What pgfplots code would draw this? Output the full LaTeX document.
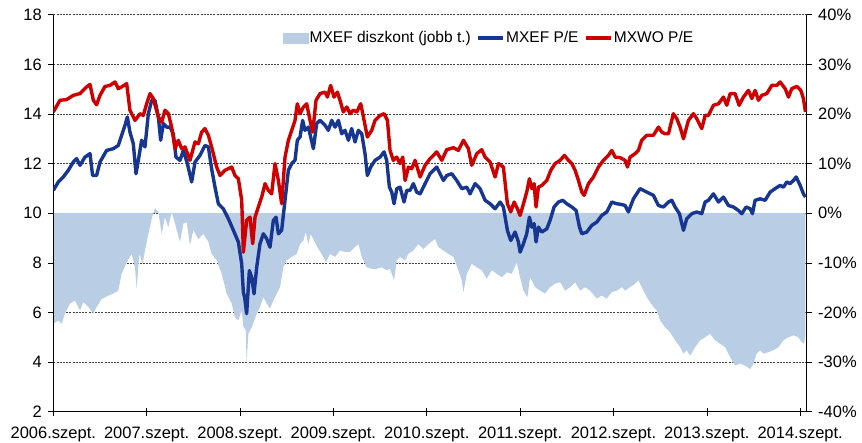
\documentclass[border=0pt]{standalone}
\usepackage{fontspec}
\setmainfont{Liberation Sans}
\usepackage{pgfplots}
\pgfplotsset{compat=1.18}
\definecolor{areablue}{RGB}{185,205,229}
\definecolor{lineblue}{RGB}{22,54,145}
\definecolor{linered}{RGB}{206,0,0}
\pgfplotsset{
  common/.style={
    scale only axis, width=753.4pt, height=397pt,
    at={(0pt,0pt)}, anchor=south west,
    xmin=0, xmax=8.07,
    tick label style={font=\fontsize{16.5}{19}\selectfont},
    /pgf/number format/assume math mode=true,
    major tick length=5pt,
    tick style={black, line width=0.6pt},
  }
}
\begin{document}
\begin{tikzpicture}
\path[use as bounding box] (-53.3pt,-30.3pt) rectangle (808.7pt,411.7pt);
% ---------- right axis: discount area + grid ----------
\begin{axis}[common,
  ymin=-40, ymax=40,
  axis y line*=right, axis x line=none,
  xtick=\empty,
  ytick={-40,-30,-20,-10,0,10,20,30,40},
  yticklabels={-40\%,-30\%,-20\%,-10\%,0\%,10\%,20\%,30\%,40\%},
  tick align=outside,
  yticklabel style={xshift=3pt},
  ymajorgrids,
  grid style={black!75, line width=0.55pt, dash pattern=on 2pt off 1.2pt},
  axis line style={black, line width=0.8pt},
]
\addplot[fill=areablue, draw=none] table {
0.000 -22.3
0.054 -21.6
0.089 -22.3
0.125 -20.2
0.179 -18.2
0.232 -17.6
0.286 -19.6
0.321 -17.9
0.375 -18.9
0.429 -20.2
0.464 -18.9
0.518 -17.3
0.589 -16.6
0.643 -16.2
0.696 -15.6
0.732 -12.2
0.786 -9.9
0.839 -8.2
0.875 -10.9
0.893 -15.2
0.921 -8.2
0.957 -10.2
0.982 -7.5
1.018 -4.2
1.054 -1.1
1.089 1.0
1.125 0.3
1.161 -4.2
1.196 -0.8
1.232 -2.8
1.268 0.3
1.304 -2.1
1.357 -5.8
1.393 -2.1
1.429 -1.8
1.464 -6.5
1.500 -3.4
1.554 -5.2
1.607 -4.2
1.661 -5.8
1.696 -8.2
1.750 -9.5
1.804 -12.2
1.857 -16.2
1.911 -18.2
1.946 -21.0
1.982 -21.6
2.018 -19.6
2.036 -22.9
2.061 -23.5
2.071 -30.2
2.089 -24.3
2.125 -23.0
2.179 -20.2
2.214 -18.9
2.250 -16.9
2.286 -18.2
2.321 -19.2
2.357 -17.6
2.393 -16.2
2.429 -14.9
2.464 -10.9
2.500 -9.5
2.554 -8.8
2.607 -8.2
2.643 -6.2
2.679 -5.5
2.704 -3.8
2.732 -6.2
2.757 -4.2
2.793 -5.5
2.839 -7.2
2.875 -8.2
2.921 -9.9
2.964 -8.2
3.018 -8.8
3.071 -7.5
3.125 -7.8
3.179 -7.8
3.232 -6.8
3.268 -6.2
3.304 -8.8
3.357 -10.9
3.411 -11.2
3.464 -11.2
3.518 -10.9
3.571 -11.5
3.607 -11.2
3.650 -13.5
3.679 -9.5
3.714 -8.8
3.768 -9.5
3.804 -8.2
3.857 -7.5
3.911 -6.2
3.964 -7.2
4.018 -6.2
4.089 -5.2
4.125 -6.8
4.179 -7.5
4.232 -8.2
4.286 -8.8
4.339 -11.5
4.375 -13.5
4.393 -15.9
4.429 -12.2
4.482 -10.2
4.536 -10.9
4.589 -11.5
4.643 -13.2
4.696 -11.5
4.750 -12.2
4.804 -12.9
4.857 -11.9
4.911 -12.2
4.964 -9.9
5.000 -12.9
5.036 -15.6
5.079 -16.9
5.107 -12.9
5.161 -14.9
5.214 -15.6
5.268 -16.2
5.321 -14.9
5.375 -14.2
5.429 -13.9
5.482 -15.6
5.536 -14.9
5.589 -13.9
5.643 -15.6
5.696 -14.9
5.750 -15.6
5.821 -17.2
5.875 -16.6
5.929 -17.2
5.982 -15.9
6.036 -15.6
6.089 -14.9
6.125 -15.6
6.178 -14.9
6.232 -14.2
6.267 -13.5
6.303 -14.9
6.357 -16.9
6.428 -18.9
6.464 -19.6
6.500 -21.6
6.553 -23.0
6.607 -24.0
6.660 -25.6
6.714 -27.0
6.750 -28.3
6.785 -27.6
6.821 -28.7
6.875 -27.0
6.928 -25.6
6.982 -25.0
7.035 -24.3
7.089 -25.6
7.142 -26.3
7.196 -27.0
7.250 -29.0
7.303 -30.7
7.357 -30.3
7.410 -30.7
7.464 -31.4
7.500 -30.3
7.535 -28.3
7.571 -27.6
7.607 -28.3
7.660 -28.0
7.714 -27.6
7.767 -27.0
7.821 -25.6
7.875 -25.0
7.928 -24.6
7.982 -25.0
8.017 -26.0
8.042 -26.3
8.057 -24.3
} \closedcycle;
\end{axis}
% ---------- left axis: P/E lines ----------
\begin{axis}[common,
  ymin=2, ymax=18,
  axis y line*=left, axis x line=none,
  xtick=\empty,
  ytick={2,4,...,18},
  tick align=outside,
  yticklabel style={xshift=-3pt},
  axis line style={black, line width=0.8pt},
  legend style={at={(rel axis cs:0.578,0.941)}, anchor=center,
    draw=none, fill=none, legend columns=3,
    font=\fontsize{15.5}{18}\selectfont,
    /tikz/every even column/.append style={column sep=4pt},
    nodes={inner xsep=1.5pt}},
  legend cell align=left,
]
\addlegendimage{legend image code/.code={\fill[areablue] (0pt,-5pt) rectangle (25pt,5pt);}}
\addlegendentry{MXEF diszkont (jobb t.)}
\addplot[lineblue, line width=3.4pt, line join=round,
  legend image code/.code={\draw[lineblue, line width=3.4pt] (0pt,0pt) -- (25pt,0pt);}] table {
0.000 10.92
0.054 11.26
0.107 11.46
0.161 11.73
0.214 12.06
0.250 12.20
0.286 11.93
0.339 12.26
0.393 12.40
0.421 11.52
0.464 11.52
0.500 12.06
0.571 12.53
0.643 12.60
0.696 12.73
0.732 13.14
0.768 13.54
0.793 13.88
0.821 13.27
0.857 12.80
0.886 11.59
0.911 12.13
0.946 12.94
0.982 12.67
1.018 14.01
1.054 14.55
1.089 14.55
1.125 13.88
1.150 12.94
1.179 13.61
1.214 13.47
1.250 13.47
1.286 13.20
1.314 12.26
1.357 12.13
1.393 12.53
1.436 12.00
1.482 11.26
1.518 12.06
1.571 12.33
1.625 12.73
1.661 12.67
1.696 11.79
1.732 11.05
1.768 10.38
1.821 10.18
1.875 9.78
1.929 9.31
1.982 8.84
2.018 7.96
2.036 6.80
2.050 6.60
2.071 5.95
2.100 7.69
2.125 7.42
2.150 6.75
2.179 7.83
2.214 8.77
2.250 9.17
2.286 8.97
2.321 8.63
2.357 9.71
2.386 9.84
2.411 9.17
2.446 9.31
2.482 10.52
2.518 11.73
2.554 12.00
2.589 12.13
2.614 12.94
2.643 13.07
2.671 13.74
2.696 13.34
2.732 13.47
2.757 13.07
2.786 12.60
2.821 13.61
2.857 13.74
2.911 13.54
2.946 13.34
2.982 13.74
3.018 13.47
3.054 13.74
3.089 13.20
3.125 13.34
3.161 12.94
3.196 13.41
3.232 12.87
3.268 13.34
3.304 13.20
3.339 12.40
3.364 11.52
3.400 11.86
3.446 12.13
3.500 12.26
3.543 12.47
3.571 12.13
3.600 11.05
3.625 10.85
3.650 10.38
3.679 10.99
3.714 11.05
3.757 10.45
3.786 10.92
3.821 10.92
3.857 11.19
3.893 10.85
3.929 10.78
3.982 11.19
4.036 11.59
4.107 11.86
4.143 11.59
4.179 11.32
4.214 11.52
4.268 11.59
4.321 11.32
4.375 10.99
4.429 11.05
4.464 10.78
4.518 11.19
4.571 10.99
4.625 10.52
4.679 10.38
4.732 10.18
4.786 10.45
4.821 10.25
4.864 9.31
4.900 8.90
4.946 9.24
4.982 8.84
5.000 8.43
5.036 8.77
5.071 9.17
5.100 9.84
5.125 9.44
5.150 9.58
5.171 8.84
5.196 9.44
5.232 9.24
5.286 9.37
5.321 9.71
5.364 10.25
5.411 10.45
5.457 10.52
5.500 10.38
5.554 10.25
5.600 10.11
5.636 9.44
5.661 9.17
5.714 9.24
5.768 9.51
5.821 9.64
5.875 9.91
5.929 10.05
5.982 10.45
6.036 10.38
6.089 10.35
6.125 10.31
6.160 10.05
6.214 10.58
6.285 10.99
6.357 10.85
6.428 10.72
6.482 10.31
6.535 10.25
6.589 10.45
6.625 10.52
6.660 10.25
6.707 9.98
6.732 9.58
6.750 9.31
6.785 9.78
6.839 9.98
6.892 10.05
6.946 9.98
6.982 10.45
7.017 10.52
7.071 10.78
7.125 10.45
7.178 10.65
7.232 10.31
7.285 10.25
7.339 10.11
7.375 9.98
7.421 10.25
7.464 10.18
7.489 9.98
7.517 10.52
7.571 10.58
7.625 10.52
7.678 10.85
7.732 10.99
7.785 11.12
7.821 11.05
7.857 11.26
7.892 11.19
7.928 11.32
7.957 11.46
8.000 11.12
8.035 10.78
8.057 10.65
};
\addlegendentry{MXEF P/E}
\addplot[linered, line width=3.4pt, line join=round,
  legend image code/.code={\draw[linered, line width=3.4pt] (0pt,0pt) -- (25pt,0pt);}] table {
0.000 14.08
0.071 14.55
0.143 14.58
0.214 14.75
0.286 14.82
0.357 15.09
0.393 15.19
0.429 14.55
0.464 14.37
0.500 14.75
0.554 15.11
0.607 15.15
0.661 15.29
0.696 15.02
0.732 15.09
0.786 15.22
0.821 14.15
0.875 13.74
0.929 14.01
0.964 13.94
1.000 14.41
1.036 14.82
1.071 14.62
1.125 13.88
1.161 13.67
1.196 14.15
1.232 14.01
1.268 13.47
1.304 12.60
1.339 12.94
1.375 12.60
1.411 12.67
1.464 12.13
1.518 12.87
1.554 12.80
1.589 13.27
1.625 13.41
1.661 13.14
1.696 12.67
1.750 11.86
1.786 11.52
1.839 11.73
1.911 11.86
1.946 11.52
1.982 11.39
2.018 10.52
2.036 8.43
2.071 9.71
2.107 9.84
2.136 8.77
2.161 9.84
2.196 10.25
2.232 10.65
2.268 11.19
2.304 10.92
2.339 10.78
2.375 12.00
2.411 11.32
2.446 10.38
2.482 12.26
2.518 12.94
2.554 13.34
2.589 13.74
2.614 14.41
2.643 14.01
2.679 14.28
2.714 14.41
2.750 13.74
2.779 13.27
2.814 14.55
2.857 14.82
2.911 14.88
2.936 14.68
2.971 15.15
3.007 14.68
3.043 14.88
3.071 14.55
3.107 14.08
3.143 14.28
3.179 14.01
3.214 14.15
3.250 14.08
3.293 14.41
3.329 13.74
3.364 13.07
3.411 13.34
3.446 13.74
3.500 13.94
3.543 14.01
3.579 13.74
3.607 12.53
3.643 12.13
3.679 12.26
3.714 12.00
3.743 12.26
3.768 11.32
3.804 11.86
3.839 11.79
3.875 12.13
3.929 11.46
3.982 11.93
4.036 12.20
4.107 12.47
4.161 12.13
4.214 12.56
4.286 12.64
4.339 12.53
4.393 12.94
4.446 12.60
4.482 11.93
4.536 12.40
4.589 12.56
4.625 12.26
4.679 12.06
4.732 11.46
4.768 12.00
4.821 11.86
4.864 10.38
4.900 10.05
4.936 10.45
4.971 10.18
5.000 9.91
5.036 10.38
5.071 10.85
5.100 11.39
5.125 10.99
5.150 11.19
5.171 10.25
5.196 11.05
5.232 11.12
5.286 11.32
5.329 11.73
5.375 12.00
5.429 12.13
5.475 12.33
5.518 12.13
5.554 12.00
5.589 11.73
5.625 11.32
5.661 10.85
5.686 10.72
5.732 11.19
5.786 11.46
5.839 11.86
5.893 12.13
5.946 12.33
5.982 12.53
6.018 12.26
6.071 12.24
6.125 12.13
6.150 11.86
6.178 12.26
6.232 12.40
6.267 12.53
6.303 12.94
6.357 13.14
6.428 13.14
6.482 13.47
6.517 13.27
6.553 13.20
6.589 13.20
6.642 14.01
6.678 13.81
6.714 13.47
6.750 13.00
6.803 13.74
6.857 14.01
6.892 13.81
6.946 13.41
6.982 13.94
7.017 13.94
7.071 14.35
7.125 14.41
7.178 14.68
7.214 14.35
7.250 14.82
7.303 14.82
7.346 14.35
7.392 14.68
7.446 14.95
7.482 14.62
7.517 14.95
7.553 14.55
7.589 14.75
7.642 14.82
7.696 15.15
7.750 15.15
7.785 15.29
7.839 15.02
7.875 14.68
7.910 15.02
7.964 15.11
8.007 14.95
8.035 14.62
8.057 14.08
};
\addlegendentry{MXWO P/E}
\end{axis}
% ---------- bottom x axis ----------
\begin{axis}[common,
  ymin=0, ymax=1,
  axis x line*=bottom, axis y line=none,
  xtick={0,1,2,3,4,5,6,7,8},
  xticklabels={2006.szept.,2007.szept.,2008.szept.,2009.szept.,2010.szept.,2011.szept.,2012.szept.,2013.szept.,2014.szept.},
  tick align=center, major tick length=8pt,
  axis line style={black, line width=0.8pt},
  xticklabel style={yshift=-7.5pt},
]
\addplot[draw=none] coordinates {(0,0)};
\end{axis}
\end{tikzpicture}
\end{document}
